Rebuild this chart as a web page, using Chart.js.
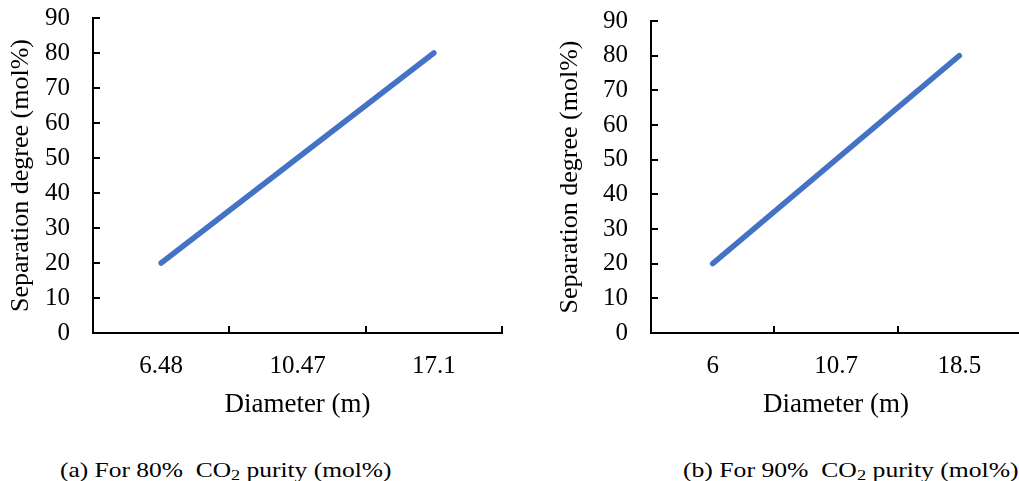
<!DOCTYPE html>
<html>
<head>
<meta charset="utf-8">
<script src="https://cdn.jsdelivr.net/npm/chart.js@4/dist/chart.umd.min.js"></script>
<style>
  html, body { margin: 0; padding: 0; background: #fff; overflow: hidden; width: 1019px; height: 481px; }
  .panel { position: absolute; top: 0; }
  .caption {
    position: absolute; top: 460px; font-family: 'Liberation Serif', 'Times New Roman', serif;
    font-size: 21px; line-height: 21px; color: #000; white-space: nowrap; transform-origin: left top;
  }
  .caption sub { font-size: 0.72em; vertical-align: -0.22em; line-height: 0; }
</style>
</head>
<body>
<div class="panel" style="left:0"><canvas id="chartA" width="510" height="430"></canvas></div>
<div class="panel" style="left:540px"><canvas id="chartB" width="483" height="430"></canvas></div>
<div class="caption" id="capA" style="left:60px">(a) For 80%&nbsp; CO<sub>2</sub> purity (mol%)</div>
<div class="caption" id="capB" style="left:683px">(b) For 90%&nbsp; CO<sub>2</sub> purity (mol%)</div>
<script>
// Diameter categories and separation degree for each CO2 purity case
const diametersA = ['6.48', '10.47', '17.1'];
const separationA = [20, 50, 80];
const diametersB = ['6', '10.7', '18.5'];
const separationB = [20, 50, 80];

const yMin = 0;
const yMax = 90;
const yStep = 10;

const xTitle = 'Diameter (m)';
const yTitle = 'Separation degree (mol%)';

const serif = "'Liberation Serif', 'Times New Roman', serif";
const lineColor = '#4472C4';

// Short tick marks drawn on the inner side of both axes
const innerTicks = {
  id: 'innerTicks',
  afterDraw(chart) {
    const { ctx, chartArea: a, scales: { x, y } } = chart;
    ctx.save();
    ctx.strokeStyle = '#000';
    ctx.lineWidth = 2;
    ctx.beginPath();
    y.ticks.forEach(t => {
      const py = Math.round(y.getPixelForValue(t.value));
      ctx.moveTo(a.left, py);
      ctx.lineTo(a.left + 7, py);
    });
    for (let i = 0; i < x.ticks.length; i++) {
      const px = Math.round(x.getPixelForValue(i + 0.5));
      ctx.moveTo(px, a.bottom);
      ctx.lineTo(px, a.bottom - 7);
    }
    ctx.stroke();
    ctx.restore();
  }
};

function makeChart(id, labels, values, frame) {
  return new Chart(document.getElementById(id), {
    type: 'line',
    data: {
      labels: labels,
      datasets: [{
        data: values,
        borderColor: lineColor,
        borderWidth: 5.5,
        borderCapStyle: 'round',
        borderJoinStyle: 'round',
        pointRadius: 0,
        pointHoverRadius: 0,
        tension: 0,
        fill: false
      }]
    },
    options: {
      responsive: false,
      animation: false,
      devicePixelRatio: 1,
      events: [],
      layout: { padding: { left: 0, right: frame.right, top: frame.top, bottom: 0 } },
      plugins: { legend: { display: false }, tooltip: { enabled: false } },
      scales: {
        x: {
          type: 'category',
          offset: true,
          grid: { display: false, drawTicks: false, offset: true },
          border: { display: true, color: '#000', width: 2 },
          ticks: { color: '#000', padding: 18, font: { family: serif, size: 25 } },
          title: { display: true, text: xTitle, color: '#000', padding: { top: 0, bottom: 9 },
                   font: { family: serif, size: 27 } },
          afterFit(scale) { scale.height = 97; }
        },
        y: {
          min: yMin,
          max: yMax,
          grid: { display: false, drawTicks: false },
          border: { display: true, color: '#000', width: 2 },
          ticks: { stepSize: yStep, color: '#000', padding: 23, font: { family: serif, size: 25 } },
          title: { display: true, text: yTitle, color: '#000', padding: { top: frame.titlePad, bottom: 0 },
                   font: { family: serif, size: 26 } },
          afterFit(scale) {
            scale.width = frame.yWidth;
            scale.paddingTop = 0;
            scale.paddingBottom = 0;
          }
        }
      }
    },
    plugins: [innerTicks]
  });
}

makeChart('chartA', diametersA, separationA, { yWidth: 93, right: 8, top: 18, titlePad: 6 });
makeChart('chartB', diametersB, separationB, { yWidth: 111, right: 2, top: 21, titlePad: 15 });

// Stretch each caption to its column width
[['capA', 332], ['capB', 336]].forEach(([id, w]) => {
  const el = document.getElementById(id);
  el.style.transform = 'scaleX(' + (w / el.offsetWidth) + ')';
});
</script>
</body>
</html>
